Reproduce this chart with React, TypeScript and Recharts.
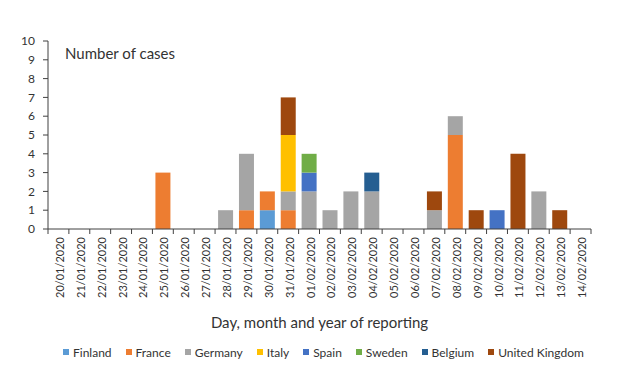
import React from "react";
import { BarChart, Bar, XAxis, YAxis, Legend } from "recharts";

const dates = [
  "20/01/2020", "21/01/2020", "22/01/2020", "23/01/2020", "24/01/2020", "25/01/2020",
  "26/01/2020", "27/01/2020", "28/01/2020", "29/01/2020", "30/01/2020", "31/01/2020",
  "01/02/2020", "02/02/2020", "03/02/2020", "04/02/2020", "05/02/2020", "06/02/2020",
  "07/02/2020", "08/02/2020", "09/02/2020", "10/02/2020", "11/02/2020", "12/02/2020",
  "13/02/2020", "14/02/2020",
];

const finland = [0,0,0,0,0,0, 0,0,0,0,1,0, 0,0,0,0,0,0, 0,0,0,0,0,0, 0,0];
const france  = [0,0,0,0,0,3, 0,0,0,1,1,1, 0,0,0,0,0,0, 0,5,0,0,0,0, 0,0];
const germany = [0,0,0,0,0,0, 0,0,1,3,0,1, 2,1,2,2,0,0, 1,1,0,0,0,2, 0,0];
const italy   = [0,0,0,0,0,0, 0,0,0,0,0,3, 0,0,0,0,0,0, 0,0,0,0,0,0, 0,0];
const spain   = [0,0,0,0,0,0, 0,0,0,0,0,0, 1,0,0,0,0,0, 0,0,0,1,0,0, 0,0];
const sweden  = [0,0,0,0,0,0, 0,0,0,0,0,0, 1,0,0,0,0,0, 0,0,0,0,0,0, 0,0];
const belgium = [0,0,0,0,0,0, 0,0,0,0,0,0, 0,0,0,1,0,0, 0,0,0,0,0,0, 0,0];
const uk      = [0,0,0,0,0,0, 0,0,0,0,0,2, 0,0,0,0,0,0, 1,0,1,0,4,0, 1,0];

const yTicks = [0, 1, 2, 3, 4, 5, 6, 7, 8, 9, 10];

const series = [
  { key: "Finland", values: finland, color: "#5B9BD5" },
  { key: "France", values: france, color: "#ED7D31" },
  { key: "Germany", values: germany, color: "#A5A5A5" },
  { key: "Italy", values: italy, color: "#FFC000" },
  { key: "Spain", values: spain, color: "#4472C4" },
  { key: "Sweden", values: sweden, color: "#70AD47" },
  { key: "Belgium", values: belgium, color: "#255E91" },
  { key: "United Kingdom", values: uk, color: "#9E480E" },
];

const data = dates.map((d, i) => {
  const row: Record<string, string | number> = { date: d };
  series.forEach((s) => {
    row[s.key] = s.values[i];
  });
  return row;
});

const FONT = "Lato, 'Open Sans', sans-serif";
const TEXT = "#333333";
const AXIS = "#404040";
const W = 621;
const H = 374;
const PLOT_LEFT = 48;
const PLOT_RIGHT = 591;
const BAND = (PLOT_RIGHT - PLOT_LEFT) / dates.length;

const XTick = (props: any) => {
  const { x, y, payload, index } = props;
  const last = index === dates.length - 1;
  return (
    <g>
      <line x1={x - BAND / 2} x2={x - BAND / 2} y1={y} y2={y + 5} stroke={AXIS} strokeWidth={1} />
      {last && (
        <line x1={x + BAND / 2} x2={x + BAND / 2} y1={y} y2={y + 5} stroke={AXIS} strokeWidth={1} />
      )}
      <text
        transform={`translate(${x + 1},${y + 8}) rotate(-90)`}
        textAnchor="end"
        dominantBaseline="central"
        fontSize={11}
        fontFamily={FONT}
        fill={TEXT}
      >
        {payload.value}
      </text>
    </g>
  );
};

const LegendContent = () => (
  <div
    style={{
      display: "flex",
      justifyContent: "flex-start",
      alignItems: "center",
      height: 22,
      width: W,
      paddingLeft: 63,
      boxSizing: "border-box",
      fontFamily: FONT,
      fontSize: 12,
      color: TEXT,
      whiteSpace: "nowrap",
    }}
  >
    {series.map((s) => (
      <div key={s.key} style={{ display: "flex", alignItems: "center", marginRight: 14, whiteSpace: "nowrap" }}>
        <span style={{ width: 6, height: 6, background: s.color, display: "inline-block", marginRight: 4 }} />
        <span>{s.key}</span>
      </div>
    ))}
  </div>
);

export default function App() {
  return (
    <div style={{ position: "absolute", left: 0, top: 0, width: W, height: H, background: "#fff" }}>
      <BarChart
        width={W}
        height={H}
        data={data}
        margin={{ top: 41, right: W - PLOT_RIGHT, bottom: 11, left: 0 }}
      >
        <XAxis
          dataKey="date"
          interval={0}
          height={112}
          tickLine={false}
          tickSize={0}
          tickMargin={0}
          tick={<XTick />}
          stroke={AXIS}
          label={{
            value: "Day, month and year of reporting",
            position: "insideBottom",
            offset: 13,
            fontSize: 15,
            fontFamily: FONT,
            fill: TEXT,
          }}
        />
        <YAxis
          width={PLOT_LEFT}
          domain={[0, 10]}
          ticks={yTicks}
          interval={0}
          tickSize={5}
          tickMargin={8}
          stroke={AXIS}
          tick={{ fontSize: 12, fontFamily: FONT, fill: TEXT }}
          label={{
            content: (p: any) => (
              <text
                x={65}
                y={(p.viewBox?.y ?? 41) + 18}
                fontSize={15}
                fontFamily={FONT}
                fill={TEXT}
              >
                Number of cases
              </text>
            ),
          }}
        />
        <Legend
          verticalAlign="bottom"
          align="left"
          height={22}
          wrapperStyle={{ left: 0, width: W }}
          content={<LegendContent />}
        />
        {series.map((s) => (
          <Bar
            key={s.key}
            dataKey={s.key}
            stackId="a"
            fill={s.color}
            barSize={15}
            isAnimationActive={false}
          />
        ))}
      </BarChart>
    </div>
  );
}
